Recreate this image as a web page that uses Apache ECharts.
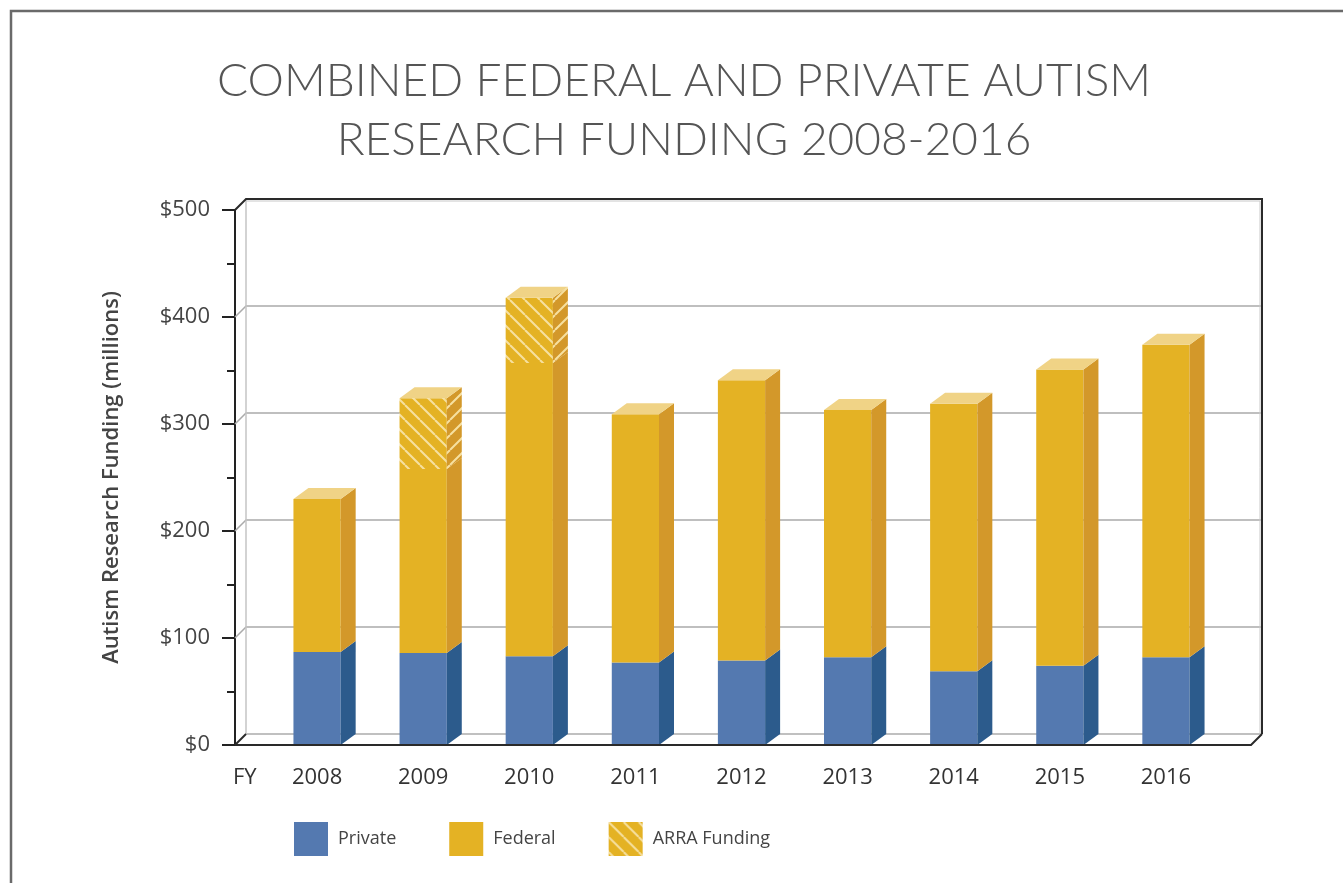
<!DOCTYPE html>
<html>
<head>
<meta charset="utf-8">
<title>Combined Federal and Private Autism Research Funding 2008-2016</title>
<script src="https://cdn.jsdelivr.net/npm/echarts@6/dist/echarts.min.js"></script>
<style>
  html, body { margin: 0; padding: 0; background: #ffffff; }
  #chart { width: 1343px; height: 883px; }
</style>
</head>
<body>
<div id="chart"></div>
<script>
// ---------------- data ----------------
const years = ['2008', '2009', '2010', '2011', '2012', '2013', '2014', '2015', '2016'];
const privateFunding = [87, 86, 83, 77, 79, 82, 69, 74, 82];
const federalFunding = [143, 172, 274, 232, 262, 231, 250, 277, 292];
const arraFunding = [0, 66, 61, 0, 0, 0, 0, 0, 0];
const gridValues = [100, 200, 300, 400];
const seriesNames = ['Private', 'Federal', 'ARRA Funding'];

// ---------------- styles ----------------
const DX = 15, DY = 11;          // bar depth offsets
const WALL = 11;                 // back wall depth offset
const LEFT_PAD = 29, RIGHT_PAD = 32;
const colors = {
  private: { front: '#5479b0', side: '#2c5b8c', top: '#8fa9d0' },
  federal: { front: '#e4b224', side: '#d3982a', top: '#f0d386' }
};

function makeHatch(bg, dir) {
  const s = 15;
  const c = document.createElement('canvas');
  c.width = s; c.height = s;
  const g = c.getContext('2d');
  g.fillStyle = bg; g.fillRect(0, 0, s, s);
  g.strokeStyle = '#f6e0a0'; g.lineWidth = 2;
  g.beginPath();
  [-s, 0, s].forEach(function (o) {
    if (dir > 0) { g.moveTo(o, 0); g.lineTo(o + s, s); }
    else { g.moveTo(o, s); g.lineTo(o + s, 0); }
  });
  g.stroke();
  return c;
}
const hatchFront = { image: makeHatch(colors.federal.front, 1), repeat: 'repeat' };
const hatchSide = { image: makeHatch(colors.federal.side, -1), repeat: 'repeat' };

// ---------------- build stacked segments ----------------
function segments(lowArr, valArr, aboveArr) {
  return years.map(function (y, i) {
    const lo = lowArr[i];
    const hi = lo + valArr[i];
    const isTop = aboveArr ? (aboveArr[i] > 0 ? 0 : 1) : 1;
    return [i, lo, hi, isTop];
  }).filter(function (d) { return d[2] > d[1]; });
}
const zeros = years.map(function () { return 0; });
const privTop = privateFunding.slice();
const fedTop = privateFunding.map(function (v, i) { return v + federalFunding[i]; });
const privData = segments(zeros, privateFunding, federalFunding);
const fedData = segments(privTop, federalFunding, arraFunding);
const arraData = segments(fedTop, arraFunding, null);

function barRenderer(front, side, top) {
  return function (params, api) {
    const i = api.value(0), lo = api.value(1), hi = api.value(2), isTop = api.value(3);
    const pLo = api.coord([i, lo]), pHi = api.coord([i, hi]);
    const band = api.size([1, 0])[0];
    const w = band * 0.445;
    const xl = pLo[0] - w / 2, xr = xl + w;
    const yb = pLo[1], yt = pHi[1];
    const children = [
      { type: 'rect', shape: { x: xl, y: yt, width: w, height: yb - yt }, style: { fill: front, stroke: null } },
      { type: 'polygon', shape: { points: [[xr, yb], [xr, yt], [xr + DX, yt - DY], [xr + DX, yb - DY]] }, style: { fill: side, stroke: null } }
    ];
    if (isTop) {
      children.push({ type: 'polygon', shape: { points: [[xl, yt], [xr, yt], [xr + DX, yt - DY], [xl + DX, yt - DY]] }, style: { fill: top, stroke: null } });
    }
    return { type: 'group', children: children };
  };
}

function lineStyle(color, width) {
  return { stroke: color, lineWidth: width, fill: 'none' };
}

function backFrame(params, api) {
  const cs = params.coordSys;
  const xf0 = cs.x - LEFT_PAD, xf1 = cs.x + cs.width + RIGHT_PAD;
  const xb0 = xf0 + WALL, xb1 = xf1 + WALL;
  const y0 = api.coord([0, 0])[1], yMax = api.coord([0, 500])[1];
  const yb0 = y0 - WALL, ybMax = yMax - WALL;
  const grey = lineStyle('#ababab', 1.5);
  const dark = lineStyle('#2a2a2a', 2);
  const ch = [];
  gridValues.forEach(function (v) {
    const y = api.coord([0, v])[1];
    ch.push({ type: 'polyline', shape: { points: [[xf0, y], [xb0, y - WALL], [xb1, y - WALL]] }, style: grey });
  });
  ch.push({ type: 'line', shape: { x1: xb0, y1: yb0, x2: xb1, y2: yb0 }, style: grey });
  ch.push({ type: 'line', shape: { x1: xb0, y1: ybMax, x2: xb0, y2: yb0 }, style: lineStyle('#c4c4c4', 1.5) });
  ch.push({ type: 'line', shape: { x1: xb0, y1: ybMax + 2, x2: xb1 - 2, y2: ybMax + 2 }, style: lineStyle('#c8c8c8', 1) });
  ch.push({ type: 'line', shape: { x1: xb1 - 2, y1: ybMax + 2, x2: xb1 - 2, y2: yb0 }, style: lineStyle('#c8c8c8', 1) });
  ch.push({ type: 'polyline', shape: { points: [[xf0, yMax], [xb0, ybMax], [xb1, ybMax], [xb1, yb0]] }, style: dark });
  ch.push({ type: 'line', shape: { x1: xf0, y1: y0, x2: xb0, y2: yb0 }, style: dark });
  return { type: 'group', children: ch };
}

function frontFrame(params, api) {
  const cs = params.coordSys;
  const xf0 = cs.x - LEFT_PAD, xf1 = cs.x + cs.width + RIGHT_PAD;
  const y0 = api.coord([0, 0])[1];
  return { type: 'group', children: [
    { type: 'polyline', shape: { points: [[xf0, y0], [xf1, y0], [xf1 + WALL, y0 - WALL]] }, style: lineStyle('#2a2a2a', 2) }
  ] };
}

const chart = echarts.init(document.getElementById('chart'), null, { renderer: 'canvas' });
const option = {
  backgroundColor: '#ffffff',
  animation: false,
  title: {
    text: 'COMBINED FEDERAL AND PRIVATE AUTISM\nRESEARCH FUNDING 2008-2016',
    left: 684, top: 52, textAlign: 'center', padding: 0,
    textStyle: { fontFamily: 'Lato', fontWeight: 300, fontSize: 46, lineHeight: 59, color: '#555555' }
  },
  legend: {
    left: 294, top: 822, itemWidth: 34, itemHeight: 34, itemGap: 53, padding: 0,
    selectedMode: false, icon: 'rect',
    textStyle: { fontFamily: 'Open Sans', fontSize: 18, color: '#444444', padding: [0, 0, 0, 5] },
    data: [
      { name: seriesNames[0], itemStyle: { color: colors.private.front } },
      { name: seriesNames[1], itemStyle: { color: colors.federal.front } },
      { name: seriesNames[2], itemStyle: { color: hatchFront } }
    ]
  },
  graphic: [
    { type: 'rect', silent: true, shape: { x: 11, y: 11, width: 1400, height: 1000 }, style: { fill: 'none', stroke: '#6a6a6a', lineWidth: 2.5 } },
    { type: 'text', silent: true, x: 233, y: 778, style: { text: 'FY', fontFamily: 'Open Sans', fontSize: 22, fill: '#333333', verticalAlign: 'middle', align: 'left' } }
  ],
  grid: { left: 264, right: 124, top: 210, bottom: 138 },
  xAxis: {
    type: 'category', data: years,
    axisLine: { show: false }, axisTick: { show: false },
    axisLabel: { fontFamily: 'Open Sans', fontSize: 22, color: '#333333', margin: 22 }
  },
  yAxis: {
    type: 'value', min: 0, max: 500, interval: 100, offset: LEFT_PAD,
    name: 'Autism Research Funding (millions)', nameLocation: 'middle', nameGap: 112,
    nameTextStyle: { fontFamily: 'Open Sans', fontWeight: 600, fontSize: 22, color: '#444444' },
    axisLine: { show: true, lineStyle: { color: '#222222', width: 2 } },
    axisTick: { show: true, length: 13, lineStyle: { color: '#222222', width: 2 } },
    minorTick: { show: true, splitNumber: 2, length: 8, lineStyle: { color: '#222222', width: 2 } },
    splitLine: { show: false },
    axisLabel: { fontFamily: 'Open Sans', fontSize: 22, color: '#444444', margin: 25, formatter: function (v) { return '$' + v; } }
  },
  series: [
    { type: 'custom', name: 'frameBack', z: 1, silent: true, renderItem: backFrame, data: [[0, 0]], encode: { x: 0, y: 1 } },
    { type: 'custom', name: seriesNames[0], z: 3, renderItem: barRenderer(colors.private.front, colors.private.side, colors.private.top),
      itemStyle: { color: colors.private.front }, data: privData, encode: { x: 0, y: [1, 2] } },
    { type: 'custom', name: seriesNames[1], z: 3, renderItem: barRenderer(colors.federal.front, colors.federal.side, colors.federal.top),
      itemStyle: { color: colors.federal.front }, data: fedData, encode: { x: 0, y: [1, 2] } },
    { type: 'custom', name: seriesNames[2], z: 3, renderItem: barRenderer(hatchFront, hatchSide, colors.federal.top),
      itemStyle: { color: hatchFront }, data: arraData, encode: { x: 0, y: [1, 2] } },
    { type: 'custom', name: 'frameFront', z: 5, silent: true, renderItem: frontFrame, data: [[0, 0]], encode: { x: 0, y: 1 } }
  ]
};
chart.setOption(option);
</script>
</body>
</html>
